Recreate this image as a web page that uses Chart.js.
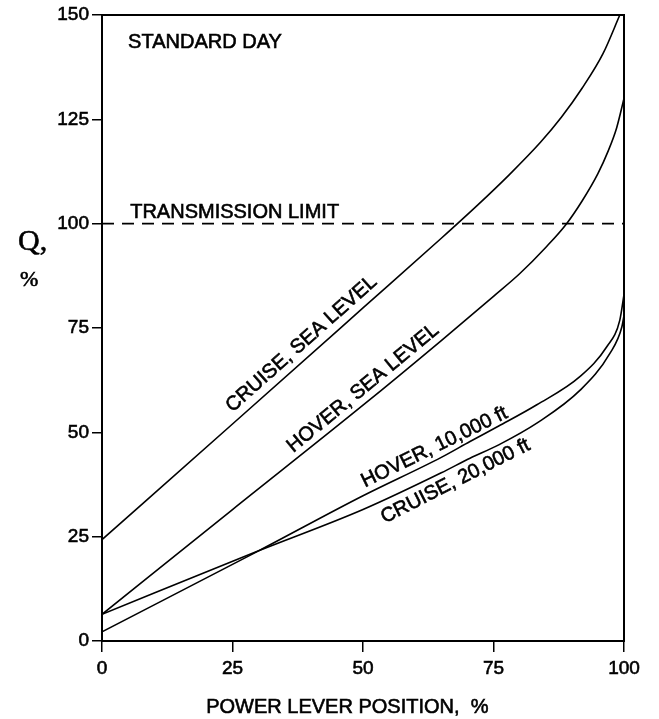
<!DOCTYPE html>
<html>
<head>
<meta charset="utf-8">
<script src="https://cdn.jsdelivr.net/npm/chart.js@4.4.1/dist/chart.umd.min.js"></script>
<style>
  html, body { margin: 0; padding: 0; background: #fff; }
  #wrap { width: 659px; height: 719px; }
</style>
</head>
<body>
<div id="wrap"><canvas id="chart"></canvas></div>
<script>
// axis ticks
const xTicks = [0, 25, 50, 75, 100];
const yTicks = [0, 25, 50, 75, 100, 125, 150];

// curves (power lever %, Q %)
const cruiseSeaX = [0, 25, 50, 65, 72, 78, 84, 88, 92, 96, 99.2];
const cruiseSeaY = [24.3, 52, 79.8, 96.5, 104.5, 111.7, 119.5, 125.5, 132.5, 140.8, 150];

const hoverSeaX = [0, 25, 50, 65, 75, 80, 85, 89, 92, 95, 97, 98.6, 100];
const hoverSeaY = [6.4, 31.5, 56.5, 72, 82.6, 88, 94.3, 100, 105.5, 112, 117.5, 123, 130];

const hover10kX = [0, 30, 50, 65, 70.5, 76, 83.3, 91.6, 96.7, 99.2, 100];
const hover10kY = [2.2, 21.6, 34.8, 44, 47.8, 51.5, 56.6, 63.4, 70.5, 76.9, 83];

const cruise20kX = [0, 30, 50, 65, 70.5, 76, 83.3, 91.6, 97.3, 99.6, 100];
const cruise20kY = [6.4, 21.6, 31.5, 40.3, 43.8, 47, 52.2, 60.1, 68.9, 75.3, 78];

const limitX = [0, 100];
const limitY = [100, 100];

const FONT = "'Liberation Sans', Arial, Helvetica, sans-serif";
const TXT = `20px ${FONT}`;

function toPoints(xs, ys) {
  return xs.map((x, i) => ({ x: x, y: ys[i] }));
}

function curve(label, xs, ys) {
  return {
    label: label,
    data: toPoints(xs, ys),
    borderColor: "#000",
    borderWidth: 1.6,
    pointRadius: 0,
    fill: false,
    cubicInterpolationMode: "monotone",
  };
}

// text along curves: dataset index, x value on curve, offset from line (px, + = above)
const curveLabels = [
  { text: "CRUISE, SEA LEVEL", ds: 0, at: 40, off: 14 },
  { text: "HOVER, SEA LEVEL", ds: 1, at: 51.6, off: 13 },
  { text: "HOVER, 10,000 ft", ds: 2, at: 64.7, off: 12 },
  { text: "CRUISE, 20,000 ft", ds: 3, at: 66.5, off: -14 },
];

function pointOnCurve(meta, px) {
  const pts = meta.data;
  for (let i = 0; i < pts.length - 1; i++) {
    const a = pts[i], b = pts[i + 1];
    if (px >= a.x && px <= b.x) {
      const t = (px - a.x) / (b.x - a.x);
      return { x: px, y: a.y + t * (b.y - a.y), ang: Math.atan2(b.y - a.y, b.x - a.x) };
    }
  }
  return null;
}

// slightly heavy text, like the scanned lettering
function inkText(ctx, s, x, y) {
  ctx.fillText(s, x, y);
  ctx.strokeText(s, x, y);
}

const annotate = {
  id: "annotate",
  afterDatasetsDraw(chart) {
    const ctx = chart.ctx;
    const xs = chart.scales.x;
    const ys = chart.scales.y;
    const area = chart.chartArea;
    ctx.save();

    // frame around plot
    ctx.strokeStyle = "#000";
    ctx.lineWidth = 2;
    ctx.strokeRect(area.left, area.top, area.right - area.left, area.bottom - area.top);

    ctx.fillStyle = "#000";
    ctx.lineWidth = 0.6;
    ctx.font = TXT;

    // curve labels
    curveLabels.forEach((l) => {
      const p = pointOnCurve(chart.getDatasetMeta(l.ds), xs.getPixelForValue(l.at));
      if (!p) return;
      ctx.save();
      ctx.translate(p.x, p.y);
      ctx.rotate(p.ang);
      ctx.textAlign = "center";
      ctx.textBaseline = "middle";
      inkText(ctx, l.text, 0, -l.off);
      ctx.restore();
    });

    // plain notes
    ctx.textAlign = "left";
    ctx.textBaseline = "middle";
    inkText(ctx, "STANDARD DAY", xs.getPixelForValue(5), ys.getPixelForValue(143.3));
    ctx.textBaseline = "alphabetic";
    inkText(ctx, "TRANSMISSION LIMIT", xs.getPixelForValue(5.4), ys.getPixelForValue(100) - 6);

    // axis titles
    ctx.textAlign = "center";
    ctx.textBaseline = "middle";
    inkText(ctx, "POWER LEVER POSITION,  %", xs.getPixelForValue(47), area.bottom + 66);

    ctx.font = `30px 'Liberation Serif', 'Times New Roman', serif`;
    ctx.textAlign = "left";
    inkText(ctx, "Q,", 18, ys.getPixelForValue(95.5));
    ctx.font = `22px 'Liberation Serif', 'Times New Roman', serif`;
    inkText(ctx, "%", 20, ys.getPixelForValue(86.5));
    ctx.restore();
  },
};

const datasets = [
  curve("Cruise, sea level", cruiseSeaX, cruiseSeaY),
  curve("Hover, sea level", hoverSeaX, hoverSeaY),
  curve("Hover, 10,000 ft", hover10kX, hover10kY),
  curve("Cruise, 20,000 ft", cruise20kX, cruise20kY),
  Object.assign(curve("Transmission limit", limitX, limitY), {
    borderDash: [12, 8],
    cubicInterpolationMode: "default",
  }),
];

const tickStyle = {
  color: "#000",
  font: { family: FONT, size: 19 },
  textStrokeColor: "#000",
  textStrokeWidth: 0.6,
};

new Chart(document.getElementById("chart"), {
  type: "line",
  data: { datasets: datasets },
  options: {
    responsive: true,
    maintainAspectRatio: false,
    animation: false,
    layout: { padding: { left: 0, right: 35, top: 15, bottom: 0 } },
    plugins: { legend: { display: false }, tooltip: { enabled: false } },
    scales: {
      x: {
        type: "linear",
        min: xTicks[0],
        max: xTicks[xTicks.length - 1],
        afterBuildTicks: (s) => { s.ticks = xTicks.map((v) => ({ value: v })); },
        afterFit: (s) => { s.height = 78; },
        grid: { drawOnChartArea: false, drawTicks: true, tickLength: 11, color: "#000", lineWidth: 1.5 },
        border: { display: true, color: "#000", width: 2 },
        ticks: Object.assign({ padding: 5, maxRotation: 0 }, tickStyle),
      },
      y: {
        type: "linear",
        min: yTicks[0],
        max: yTicks[yTicks.length - 1],
        afterBuildTicks: (s) => { s.ticks = yTicks.map((v) => ({ value: v })); },
        afterFit: (s) => { s.width = 102; },
        grid: { drawOnChartArea: false, drawTicks: true, tickLength: 10, color: "#000", lineWidth: 1.5 },
        border: { display: true, color: "#000", width: 2 },
        ticks: Object.assign({ padding: 3 }, tickStyle),
      },
    },
  },
  plugins: [annotate],
});
</script>
</body>
</html>
